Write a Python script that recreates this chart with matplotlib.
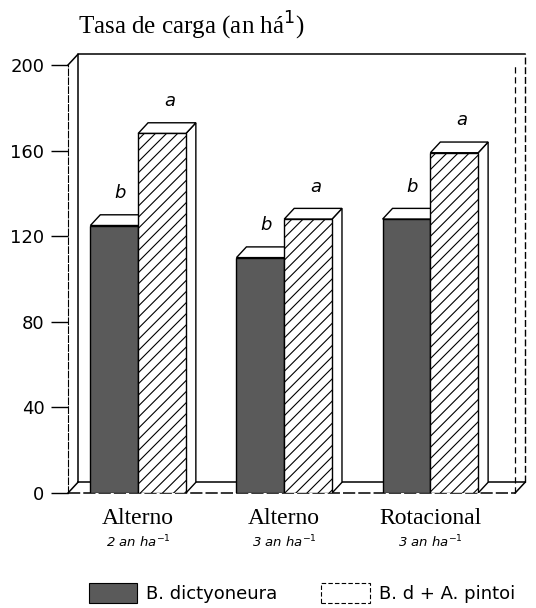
import matplotlib
matplotlib.use('Agg')
import matplotlib.pyplot as plt
from matplotlib.patches import Polygon, Patch

# datos
sistemas = ['Alterno', 'Alterno', 'Rotacional']
cargas = ['2 an ha$^{-1}$', '3 an ha$^{-1}$', '3 an ha$^{-1}$']
b_dictyoneura = [125, 110, 128]
bd_pintoi = [168, 128, 159]
letras_bd = ['b', 'b', 'b']
letras_mix = ['a', 'a', 'a']
y_ticks = [0, 40, 80, 120, 160, 200]

DARK = '#5a5a5a'
W = 0.327          # ancho de barra (unidades de x)
DX, DY = 0.068, 5  # profundidad del efecto 3D
XL, XR = -0.48, 2.58

plt.rcParams['hatch.color'] = '#3a3a3a'
plt.rcParams['hatch.linewidth'] = 0.8

fig = plt.figure(figsize=(5.36, 6.08), dpi=100)
ax = fig.add_axes([68 / 536, 115 / 608, 460 / 536, 428 / 608])
ax.set_xlim(XL, XR + DX + 0.02)
ax.set_ylim(0, 200)
for s in ['top', 'right', 'bottom']:
    ax.spines[s].set_visible(False)
ax.spines['left'].set_linestyle((0, (6, 2)))
ax.set_xticks([])
ax.set_yticks(y_ticks)
ax.tick_params(axis='y', direction='out', length=12, width=1, labelsize=13, pad=5)
for lab in ax.get_yticklabels():
    lab.set_family('DejaVu Sans')

# caja de fondo (pared posterior y piso)
k = dict(color='black', lw=1.1, clip_on=False, zorder=1)
ax.plot([XL + DX, XL + DX, XR + DX], [DY, 200 + DY, 200 + DY], **k)
ax.plot([XR + DX, XR + DX], [DY, 200 + DY], color='black', lw=1.0, ls=(0, (5, 2)), clip_on=False, zorder=1)
ax.plot([XL + DX, XR + DX], [DY, DY], **k)
ax.plot([XL, XR], [0, 0], color='black', lw=1.1, ls=(0, (8, 2)), clip_on=False, zorder=1)
ax.plot([XR, XR], [0, 200], color='black', lw=0.9, ls=(0, (5, 3)), clip_on=False, zorder=1)
ax.plot([XL, XL + DX], [0, DY], **k)
ax.plot([XR, XR + DX], [0, DY], **k)
ax.plot([XL, XL + DX], [200, 200 + DY], **k)


def barra_3d(x0, v, face, hatch, z):
    x1 = x0 + W
    top = [(x0, v), (x0 + DX, v + DY), (x1 + DX, v + DY), (x1, v)]
    side = [(x1, 0), (x1, v), (x1 + DX, v + DY), (x1 + DX, DY)]
    for pts in (side, top):
        ax.add_patch(Polygon(pts, closed=True, facecolor='white', edgecolor='black',
                             lw=1.0, zorder=z))
    ax.bar(x0, v, width=W, align='edge', color=face, edgecolor='black', hatch=hatch,
           lw=1.0, zorder=z + 0.5)


for i in range(len(sistemas)):
    xd = i - W
    xm = i
    barra_3d(xd, b_dictyoneura[i], DARK, None, 2)
    barra_3d(xm, bd_pintoi[i], 'white', '///', 3)
    ax.text(xd + W / 2 + 0.04, b_dictyoneura[i] + 11, letras_bd[i], ha='center', va='bottom',
            fontsize=13, style='italic', family='DejaVu Sans', zorder=5)
    ax.text(xm + W / 2 + 0.05, bd_pintoi[i] + 11, letras_mix[i], ha='center', va='bottom',
            fontsize=13, style='italic', family='DejaVu Sans', zorder=5)
    ax.text(i, -7, sistemas[i], ha='center', va='top', fontsize=17,
            family='Liberation Serif', clip_on=False)
    ax.text(i, -19, cargas[i], ha='center', va='top', fontsize=9.5, style='italic',
            family='DejaVu Sans', clip_on=False)

fig.text(78 / 536, 1 - 26 / 608, 'Tasa de carga (an há$^{1}$)', ha='left', va='center',
         fontsize=18, family='Liberation Serif')

handles = [Patch(facecolor=DARK, edgecolor='black', lw=0.8),
           Patch(facecolor='white', edgecolor='black', lw=0.8, ls=(0, (4, 2)))]
fig.legend(handles, ['B. dictyoneura', 'B. d + A. pintoi'], loc='center left',
           bbox_to_anchor=(76 / 536, 1 - 593 / 608), ncol=2, frameon=False, fontsize=13,
           handlelength=2.7, handleheight=1.4, columnspacing=2.4, handletextpad=0.5,
           borderpad=0.2)

fig.savefig('out.png', dpi=100)
